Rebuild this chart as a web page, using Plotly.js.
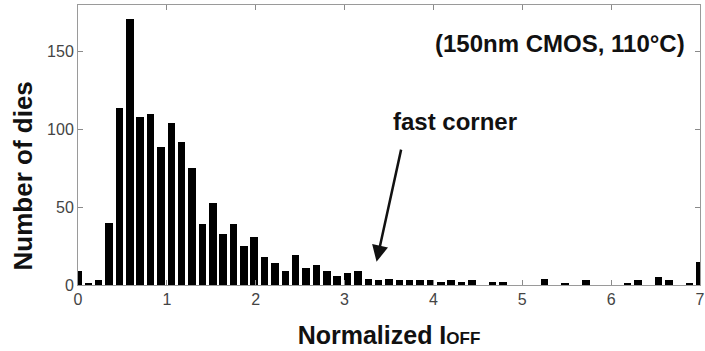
<!DOCTYPE html>
<html>
<head>
<meta charset="utf-8">
<script src="https://cdn.plot.ly/plotly-3.0.1.min.js"></script>
<style>
  html, body { margin: 0; padding: 0; background: #fff; }
  #chart { width: 705px; height: 351px; }
</style>
</head>
<body>
<div id="chart"></div>
<script>
// Histogram bin centres (normalized Ioff)
const binCenters = [
  0, 0.117, 0.233, 0.35, 0.467, 0.583, 0.7, 0.817, 0.933, 1.05,
  1.167, 1.283, 1.4, 1.517, 1.633, 1.75, 1.867, 1.983, 2.1, 2.217,
  2.333, 2.45, 2.567, 2.683, 2.8, 2.917, 3.033, 3.15, 3.267, 3.383,
  3.5, 3.617, 3.733, 3.85, 3.967, 4.083, 4.2, 4.317, 4.433, 4.55,
  4.667, 4.783, 4.9, 5.017, 5.133, 5.25, 5.367, 5.483, 5.6, 5.717,
  5.833, 5.95, 6.067, 6.183, 6.3, 6.417, 6.533, 6.65, 6.767, 6.883, 7
];
// Number of dies per bin
const dieCounts = [
  9, 1, 3, 40, 114, 171, 108, 110, 89, 104,
  92, 75, 39, 53, 33, 39, 25, 31, 18, 14,
  9, 19, 11, 13, 9, 6, 8, 9, 4, 3,
  4, 3, 3, 3, 3, 2, 3, 2, 3, 0,
  2, 2, 0, 0, 0, 4, 0, 1, 0, 3,
  0, 0, 0, 1, 3, 0, 5, 3, 0, 1, 15
];
const xTickVals = [0, 1, 2, 3, 4, 5, 6, 7];
const xTickText = ['0', '1', '2', '3', '4', '5', '6', '7'];
const yTickVals = [0, 50, 100, 150];
const yTickText = ['0', '50', '100', '150'];

const textFont = "'Liberation Sans', Arial, sans-serif";

const trace = {
  type: 'bar',
  x: binCenters,
  y: dieCounts,
  width: 0.085,
  marker: { color: '#000000', line: { width: 0 } },
  hoverinfo: 'x+y'
};

const axisCommon = {
  showline: true,
  linecolor: '#9a9a9a',
  linewidth: 1,
  mirror: 'ticks',
  ticks: 'inside',
  ticklen: 5,
  tickcolor: '#8a8a8a',
  tickwidth: 1,
  showgrid: false,
  zeroline: false,
  ticklabeloverflow: 'allow',
  tickfont: { family: textFont, size: 16, color: '#444444' }
};

const layout = {
  width: 705,
  height: 351,
  margin: { l: 78, r: 5, t: 5, b: 66 },
  paper_bgcolor: '#ffffff',
  plot_bgcolor: '#ffffff',
  showlegend: false,
  bargap: 0,
  xaxis: Object.assign({}, axisCommon, {
    range: [0, 7],
    tickvals: xTickVals,
    ticktext: xTickText,
    title: {
      text: "Normalized I<span style='font-size:17px'>OFF</span>",
      font: { family: textFont, size: 25, color: '#111111', weight: 'bold' },
      standoff: 19
    }
  }),
  yaxis: Object.assign({}, axisCommon, {
    range: [0, 180],
    tickvals: yTickVals,
    ticktext: yTickText
  }),
  annotations: [
    {
      xref: 'paper', yref: 'paper',
      x: -0.089, y: 0.39,
      xanchor: 'center', yanchor: 'middle',
      textangle: -90,
      text: 'Number of dies',
      showarrow: false,
      font: { family: textFont, size: 26, color: '#111111', weight: 'bold' }
    },
    {
      xref: 'paper', yref: 'paper',
      x: 0.775, y: 0.864,
      xanchor: 'center', yanchor: 'middle',
      text: '(150nm CMOS, 110°C)',
      showarrow: false,
      font: { family: textFont, size: 24, color: '#111111', weight: 'bold' }
    },
    {
      xref: 'paper', yref: 'paper',
      x: 0.606, y: 0.584,
      xanchor: 'center', yanchor: 'middle',
      text: 'fast corner',
      showarrow: false,
      font: { family: textFont, size: 24, color: '#111111', weight: 'bold' }
    },
    {
      xref: 'x', yref: 'y', axref: 'x', ayref: 'y',
      x: 3.36, y: 15,
      ax: 3.64, ay: 88,
      text: '',
      showarrow: true,
      arrowhead: 2,
      arrowsize: 1.3,
      arrowwidth: 2.5,
      arrowcolor: '#111111'
    }
  ]
};

Plotly.newPlot('chart', [trace], layout, { displayModeBar: false, staticPlot: true });
</script>
</body>
</html>
